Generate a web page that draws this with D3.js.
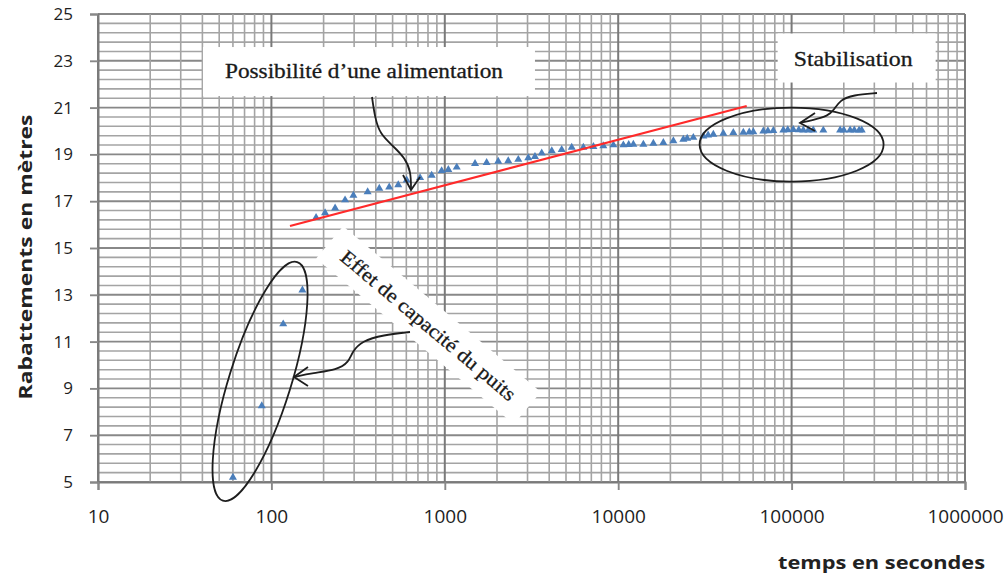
<!DOCTYPE html>
<html>
<head>
<meta charset="utf-8">
<script src="https://cdn.jsdelivr.net/npm/d3@7"></script>
<style>
  html, body { margin: 0; padding: 0; background: #fff; }
  svg { display: block; }
</style>
</head>
<body>
<svg id="chart" width="1008" height="580"></svg>
<script>
// Pumping test: drawdown (m) versus time (s), semi-log plot
const timeSec = [60, 88, 117, 151, 181, 204, 233, 266, 297, 359, 419, 478, 539, 603, 720, 840, 959, 1048,
  1172, 1494, 1743, 2033, 2322, 2654, 3030, 3311, 3622, 4140, 4722, 5395, 6297, 7195, 8209, 9379,
  10710, 11500, 12230, 13970, 15950, 18210, 20800, 23750, 25000, 27120, 30980, 33000, 35370, 40390,
  46120, 52670, 57000, 60150, 68690, 73000, 78440, 89580, 95000, 102300, 110000, 116800, 125000,
  133400, 152400, 190500, 200000, 217500, 230000, 245000, 253700];
const drawdown = [5.2, 8.25, 11.75, 13.2, 16.3, 16.5, 16.7, 17.05, 17.25, 17.4, 17.55, 17.6, 17.7, 17.9,
  18.0, 18.1, 18.3, 18.35, 18.45, 18.6, 18.65, 18.7, 18.72, 18.78, 18.85, 18.9, 19.05, 19.15, 19.2,
  19.3, 19.3, 19.33, 19.36, 19.4, 19.4, 19.42, 19.43, 19.43, 19.47, 19.5, 19.58, 19.64, 19.68, 19.72,
  19.78, 19.82, 19.85, 19.9, 19.93, 19.94, 19.95, 19.96, 19.99, 20.0, 20.01, 20.04, 20.05, 20.06,
  20.05, 20.04, 20.04, 20.04, 20.03, 20.04, 20.04, 20.04, 20.04, 20.03, 20.04];

// Straight-line (Jacob) fit drawn as a red segment
const fitTime = [128, 55100];
const fitDrawdown = [15.94, 21.07];

const yTicks = [5, 7, 9, 11, 13, 15, 17, 19, 21, 23, 25];
const xTicks = [10, 100, 1000, 10000, 100000, 1000000];
const xTickLabels = ["10", "100", "1000", "10000", "100000", "1000000"];

const svg = d3.select("#chart");
const x = d3.scaleLog().domain([10, 1e6]).range([98, 965]);
const y = d3.scaleLinear().domain([5, 25]).range([482, 14]);

// ---- grid ----
const grid = svg.append("g");
const yMinor = d3.range(0, 51).map(i => 5 + i * 0.4);
grid.selectAll("line.h").data(yMinor).join("line")
  .attr("x1", x(10)).attr("x2", x(1e6))
  .attr("y1", d => y(d)).attr("y2", d => y(d))
  .attr("stroke", (d, i) => i % 5 === 0 ? "#888" : "#a4a4a4")
  .attr("stroke-width", (d, i) => i % 5 === 0 ? 1.9 : 1.6);

const xAll = x.ticks();
const isDecade = d => Math.abs(Math.log10(d) % 1) < 1e-9;
grid.selectAll("line.v").data(xAll).join("line")
  .attr("x1", d => x(d)).attr("x2", d => x(d))
  .attr("y1", y(25)).attr("y2", y(5))
  .attr("stroke", d => isDecade(d) ? "#7a7a7a" : "#a4a4a4")
  .attr("stroke-width", d => isDecade(d) ? 2 : 1.6);

// ---- axes ----
const yAxis = svg.append("g").attr("transform", `translate(${x(10)},0)`)
  .call(d3.axisLeft(y).tickValues(yTicks).tickSize(8).tickPadding(17));
const xAxis = svg.append("g").attr("transform", `translate(0,${y(5)})`)
  .call(d3.axisBottom(x).tickValues(xTicks).tickSize(8).tickPadding(20)
    .tickFormat((d, i) => xTickLabels[i]));
[yAxis, xAxis].forEach(g => {
  g.select(".domain").attr("stroke", "#7a7a7a").attr("stroke-width", 2);
  g.selectAll(".tick line").attr("stroke", "#888").attr("stroke-width", 1.9);
  g.selectAll("text").attr("fill", "#1e1e1e").attr("font-family", "'Open Sans', sans-serif");
});
yAxis.selectAll("text").attr("font-size", 17);
xAxis.selectAll("text").attr("font-size", 19);

// ---- axis titles ----
svg.append("text")
  .attr("transform", "rotate(-90)")
  .attr("x", -257).attr("y", 32)
  .attr("text-anchor", "middle")
  .attr("font-family", "'Open Sans', sans-serif").attr("font-weight", 700)
  .attr("font-size", 18).attr("fill", "#222")
  .attr("textLength", 285).attr("lengthAdjust", "spacingAndGlyphs")
  .text("Rabattements en mètres");
svg.append("text")
  .attr("x", 778).attr("y", 569)
  .attr("font-family", "'Open Sans', sans-serif").attr("font-weight", 700)
  .attr("font-size", 18).attr("fill", "#222")
  .attr("textLength", 207).attr("lengthAdjust", "spacingAndGlyphs")
  .text("temps en secondes");

// ---- measured drawdown ----
const pts = timeSec.map((t, i) => [t, drawdown[i]]);
svg.append("g").selectAll("path").data(pts).join("path")
  .attr("d", d3.symbol(d3.symbolTriangle, 28))
  .attr("transform", d => `translate(${x(d[0])},${y(d[1])})`)
  .attr("fill", "#4a7ebb");

// ---- fitted line ----
svg.append("line")
  .attr("x1", x(fitTime[0])).attr("y1", y(fitDrawdown[0]))
  .attr("x2", x(fitTime[1])).attr("y2", y(fitDrawdown[1]))
  .attr("stroke", "#ff2a2a").attr("stroke-width", 2.2);

// ---- annotations ----
const ann = svg.append("g").attr("font-family", "'Liberation Serif', 'Times New Roman', serif")
  .attr("fill", "#1a1a1a");
const P = (t, s) => [x(t), y(s)];
const curve = d3.line().curve(d3.curveBasis);

// Text boxes
const box1 = P(40.3, 22.52);
ann.append("rect").attr("x", box1[0]).attr("y", box1[1] - 25)
  .attr("width", 332).attr("height", 49).attr("fill", "#fff");
ann.append("text").attr("x", box1[0] + 22).attr("y", box1[1] + 6)
  .attr("font-size", 20).attr("textLength", 278).attr("lengthAdjust", "spacingAndGlyphs")
  .attr("stroke", "#1a1a1a").attr("stroke-width", 0.3)
  .text("Possibilité d\u2019une alimentation");

const box2 = P(90000, 23.14);
ann.append("rect").attr("x", box2[0] - 6).attr("y", box2[1] - 24)
  .attr("width", 158).attr("height", 49).attr("fill", "#fff");
ann.append("text").attr("x", box2[0] + 10).attr("y", box2[1] + 8)
  .attr("font-size", 21).attr("textLength", 119).attr("lengthAdjust", "spacingAndGlyphs")
  .attr("stroke", "#1a1a1a").attr("stroke-width", 0.3)
  .text("Stabilisation");

const box3 = P(805, 11.7);
const g3 = ann.append("g").attr("transform", `translate(${box3[0]},${box3[1]}) rotate(40)`);
g3.append("rect").attr("x", -129).attr("y", -21).attr("width", 258).attr("height", 42).attr("fill", "#fff");
g3.append("text").attr("x", 0).attr("y", 7).attr("text-anchor", "middle")
  .attr("font-size", 20).attr("textLength", 222).attr("lengthAdjust", "spacingAndGlyphs")
  .attr("stroke", "#1a1a1a").attr("stroke-width", 0.3)
  .text("Effet de capacité du puits");

// Ellipses
const e1 = P(100000, 19.42);
ann.append("ellipse").attr("cx", e1[0]).attr("cy", e1[1]).attr("rx", 92).attr("ry", 37)
  .attr("fill", "none").attr("stroke", "#1e1e1e").attr("stroke-width", 1.8);
const e2 = P(86, 9.3);
ann.append("ellipse").attr("transform", `translate(${e2[0]},${e2[1]}) rotate(17.3)`)
  .attr("rx", 31).attr("ry", 125)
  .attr("fill", "none").attr("stroke", "#1e1e1e").attr("stroke-width", 1.8);

// Curved arrows with open heads
const arrows = [
  { path: [[372, 97], [375, 118], [380, 134], [393, 146], [405, 158], [411, 172], [411, 190]],
    barbs: [[403, 175], [411, 190], [420, 177]] },
  { path: [[877, 93], [853, 95], [840, 100], [834, 110], [828, 116], [813, 120], [800, 123]],
    barbs: [[815, 113], [800, 123], [815, 131]] },
  { path: [[410, 332], [383, 335], [362, 341], [352, 352], [349, 362], [337, 370], [313, 373], [294, 377]],
    barbs: [[308, 367], [294, 377], [308, 386]] }
];
// Arrow paths are laid out relative to the plotting frame
const ox = x(10) - 98, oy = y(25) - 14;
arrows.forEach(a => {
  const pth = a.path.map(p => [p[0] + ox, p[1] + oy]);
  const brb = a.barbs.map(p => [p[0] + ox, p[1] + oy]);
  ann.append("path").attr("d", curve(pth)).attr("fill", "none")
    .attr("stroke", "#1e1e1e").attr("stroke-width", 1.8);
  ann.append("path").attr("d", d3.line()(brb)).attr("fill", "none")
    .attr("stroke", "#1e1e1e").attr("stroke-width", 1.8);
});
</script>
</body>
</html>
